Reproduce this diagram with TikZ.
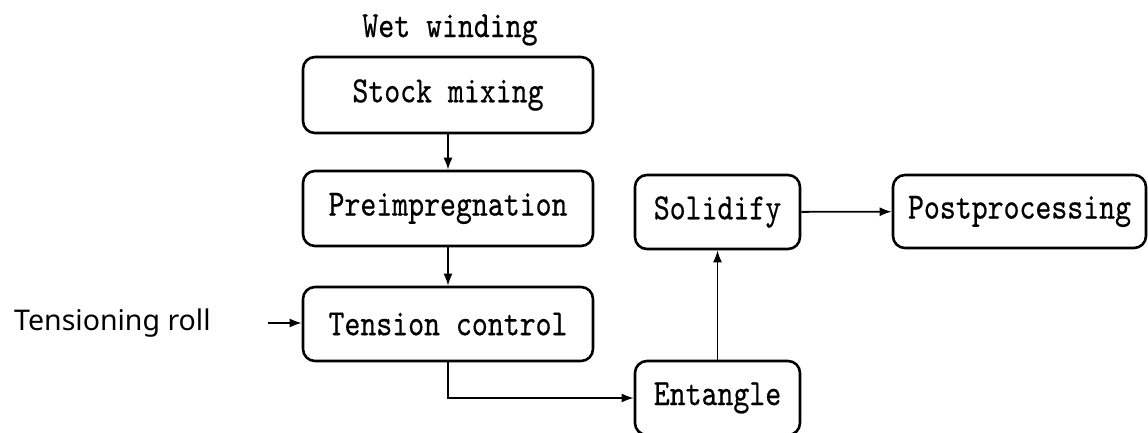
\documentclass[tikz,border=0pt]{standalone}
\usepackage{fontspec}
\usepackage{tikz}
\usetikzlibrary{arrows.meta}
\newfontfamily\labelfont{Noto Sans}
\newfontfamily\monofont[Extension=.otf,FakeStretch=0.82,FakeBold=0.45]{lmmono10-regular}
\newcommand\boxfont{\monofont\fontsize{37}{42}\selectfont}

\begin{document}
\begin{tikzpicture}[x=1pt,y=-1pt,
        stepbox/.style={draw,line width=2.6pt,rounded corners=12pt,inner sep=0pt,font=\boxfont},
        flow/.style={line width=1.8pt,-{Latex[length=12pt,width=9pt]}}]
        \useasboundingbox (0,0) rectangle (1148,433);
        \node[font=\boxfont] (title) at (450,30) {Wet winding};
        \node[stepbox,minimum width=290pt,minimum height=76pt] (stock) at (448,95) {Stock mixing};
        \node[stepbox,minimum width=290pt,minimum height=75pt] (preimp) at (448,208.5) {Preimpregnation};
        \node[stepbox,minimum width=290pt,minimum height=74pt] (tension) at (448,324) {Tension control};
        \node[stepbox,minimum width=165pt,minimum height=74pt] (entangle) at (717.5,398) {Entangle};
        \node[stepbox,minimum width=165pt,minimum height=74pt] (solidify) at (717.5,212) {Solidify};
        \node[stepbox,minimum width=253pt,minimum height=73pt] (post) at (1019.5,211.5) {Postprocessing};
        \node[font=\labelfont\fontsize{28.5}{34}\selectfont,anchor=west,inner sep=0pt] (roll) at (14,323) {Tensioning roll};
        \coordinate (rollend) at (268,323);
        \draw[flow] (stock) -- (preimp);
        \draw[flow] (preimp) -- (tension);
        \draw[flow] (rollend) -- (tension.west |- rollend);
        \draw[flow] (tension.south) |- (entangle.west);
        \draw[flow] (entangle) -- (solidify);
        \draw[flow] (solidify) -- (post);
    \end{tikzpicture}
\end{document}
